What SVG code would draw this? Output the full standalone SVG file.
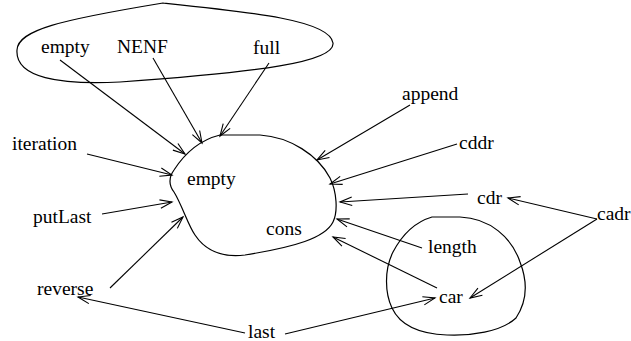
<svg xmlns="http://www.w3.org/2000/svg" width="631" height="341" viewBox="0 0 631 341">
  <defs>
    <marker id="open" markerUnits="userSpaceOnUse" markerWidth="16" markerHeight="12" viewBox="-14 -6 16 12" refX="0" refY="0" orient="auto">
      <path d="M-12,-4.2 L0,0 L-12,4.2" fill="none" stroke="#000" stroke-width="1.1"/>
    </marker>
  </defs>
  <style>
    .region { fill: none; stroke: #000; stroke-width: 1.2; }
    .edge { fill: none; stroke: #000; stroke-width: 1.1; marker-end: url(#open); }
    text { font-family: "Liberation Serif", "Times New Roman", serif; font-size: 19.5px; fill: #000; }
  </style>

  <!-- outer regions -->
  <g id="predicates-region">
    <path class="region" d="M163,3 C250,12 330,20 333,43 C335,62 260,72 120,82 C60,85 15,78 17,50 C18,30 60,20 163,3 Z"/>
  </g>
  <g id="list-region">
    <path class="region" d="M220,135 L260,135 C290,137 318,155 330,178 C337,192 338,212 333,222 C325,238 295,247 245,255 C220,258 205,250 195,235 C188,225 182,205 174,192 C168,184 169,177 174,170 C185,153 200,140 220,135 Z"/>
    <text x="187" y="185">empty</text>
    <text x="266" y="235">cons</text>
  </g>
  <g id="selector-region">
    <path class="region" d="M432,217 L460,217 C490,218 512,238 520,262 C527,280 528,300 516,318 C501,332 470,336 447,335 C420,334 400,325 392,308 C385,293 384,270 393,252 C402,235 415,222 432,217 Z"/>
  </g>

  <!-- operation nodes -->
  <g id="n-empty"><text x="41" y="53">empty</text></g>
  <g id="n-nenf"><text x="117" y="53">NENF</text></g>
  <g id="n-full"><text x="253" y="54">full</text></g>
  <g id="n-append"><text x="402" y="100">append</text></g>
  <g id="n-cddr"><text x="459" y="149">cddr</text></g>
  <g id="n-iteration"><text x="12" y="150">iteration</text></g>
  <g id="n-putlast"><text x="33" y="223">putLast</text></g>
  <g id="n-reverse"><text x="37" y="295">reverse</text></g>
  <g id="n-last"><text x="248" y="338">last</text></g>
  <g id="n-cdr"><text x="477" y="204">cdr</text></g>
  <g id="n-cadr"><text x="597" y="220">cadr</text></g>
  <g id="n-length"><text x="428" y="253">length</text></g>
  <g id="n-car"><text x="439" y="303">car</text></g>

  <!-- connectors -->
  <g id="connectors">
    <line class="edge" x1="60" y1="60" x2="185" y2="154"/>
    <line class="edge" x1="153" y1="58" x2="202" y2="143"/>
    <line class="edge" x1="269" y1="63" x2="220" y2="136"/>
    <line class="edge" x1="87" y1="154" x2="172" y2="175"/>
    <line class="edge" x1="102" y1="214" x2="172" y2="202"/>
    <line class="edge" x1="110" y1="288" x2="183" y2="217"/>
    <line class="edge" x1="245" y1="333" x2="78" y2="297"/>
    <line class="edge" x1="285" y1="334" x2="435" y2="298"/>
    <line class="edge" x1="410" y1="105" x2="317" y2="160"/>
    <line class="edge" x1="457" y1="144" x2="330" y2="184"/>
    <line class="edge" x1="468" y1="194" x2="340" y2="202"/>
    <line class="edge" x1="422" y1="248" x2="337" y2="219"/>
    <line class="edge" x1="437" y1="288" x2="333" y2="237"/>
    <line class="edge" x1="597" y1="219" x2="508" y2="198"/>
    <line class="edge" x1="597" y1="219" x2="470" y2="298"/>
  </g>
</svg>
